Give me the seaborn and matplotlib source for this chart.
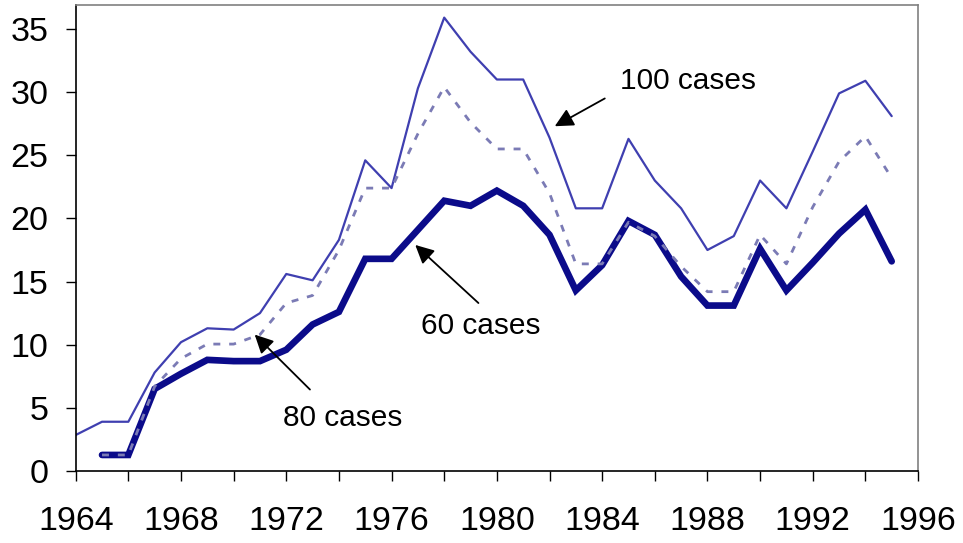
import numpy as np
import pandas as pd
import matplotlib
matplotlib.use("Agg")
import matplotlib.pyplot as plt
import seaborn as sns

# data
years = list(range(1964, 1996))
cases_100 = [2.85, 3.9, 3.9, 7.8, 10.2, 11.3, 11.2, 12.5, 15.6, 15.1, 18.3, 24.6,
             22.4, 30.3, 35.9, 33.2, 31.0, 31.0, 26.4, 20.8, 20.8, 26.3, 23.0, 20.8,
             17.5, 18.6, 23.0, 20.8, 25.3, 29.9, 30.9, 28.1]
cases_80 = [np.nan, 1.27, 1.27, 6.7, 8.9, 10.05, 10.05, 10.8, 13.3, 13.9, 17.5, 22.4,
            22.4, 26.7, 30.4, 27.6, 25.5, 25.5, 22.0, 16.4, 16.4, 19.7, 18.6, 16.2,
            14.2, 14.2, 18.7, 16.4, 20.9, 24.5, 26.5, 23.2]
cases_60 = [np.nan, 1.27, 1.27, 6.5, 7.7, 8.8, 8.7, 8.7, 9.6, 11.6, 12.6, 16.8,
            16.8, 19.1, 21.4, 21.0, 22.2, 21.0, 18.7, 14.3, 16.3, 19.8, 18.7, 15.4,
            13.1, 13.1, 17.6, 14.3, 16.5, 18.8, 20.7, 16.6]

df = pd.DataFrame({"year": years, "100 cases": cases_100,
                   "80 cases": cases_80, "60 cases": cases_60})

sns.set_theme(style="ticks")
plt.rcParams["font.family"] = ["Liberation Sans", "DejaVu Sans"]
plt.rcParams["text.color"] = "black"
plt.rcParams["xtick.labelcolor"] = "black"
plt.rcParams["ytick.labelcolor"] = "black"

fig = plt.figure(figsize=(9.63, 5.43), dpi=100)
ax = fig.add_axes([0.0786, 0.1326, 0.8747, 0.8582])

# thin line: 100 cases
sns.lineplot(data=df, x="year", y="100 cases", color="#3f3fb0", linewidth=1.6, ax=ax)
# thick line: 60 cases
sns.lineplot(data=df, x="year", y="60 cases", color="#0b0b8a", linewidth=4.8,
             solid_capstyle="round", solid_joinstyle="miter", ax=ax)
# dashed line: 80 cases
sns.lineplot(data=df, x="year", y="80 cases", color="#7b7bb5", linewidth=2.0, ax=ax)
ax.lines[-1].set_dashes((2.5, 3.2))

ax.set_xlim(1964, 1996)
ax.set_ylim(0, 36.9)
ax.set_xticks(range(1964, 1997, 4))
ax.set_xticks(range(1966, 1996, 4), minor=True)
ax.set_yticks(range(0, 36, 5))
ax.set_xlabel("")
ax.set_ylabel("")

ax.tick_params(axis="x", which="both", direction="out", length=7.5, width=1,
               color="black", labelsize=24.5, pad=18)
ax.tick_params(axis="y", direction="out", length=7.5, width=1, color="black",
               labelsize=24.5, pad=12)

for side in ["left", "bottom"]:
    ax.spines[side].set_color("black")
    ax.spines[side].set_linewidth(1.2)
for side in ["top", "right"]:
    ax.spines[side].set_visible(True)
    ax.spines[side].set_color("#808080")
    ax.spines[side].set_linewidth(1.2)

arrow = dict(arrowstyle="-|>", color="black", lw=1.3, mutation_scale=28,
             shrinkA=0, shrinkB=0)
ax.annotate("", xy=(1982.2, 27.3), xytext=(1984.1, 29.5), arrowprops=arrow)
ax.annotate("", xy=(1976.9, 17.9), xytext=(1979.3, 13.3), arrowprops=arrow)
ax.annotate("", xy=(1970.8, 10.8), xytext=(1972.9, 6.45), arrowprops=arrow)

ax.text(1987.25, 30.9, "100 cases", fontsize=21.5, ha="center", va="center")
ax.text(1979.4, 11.5, "60 cases", fontsize=21.5, ha="center", va="center")
ax.text(1974.15, 4.2, "80 cases", fontsize=21.5, ha="center", va="center")

fig.savefig("out.png", dpi=100)
